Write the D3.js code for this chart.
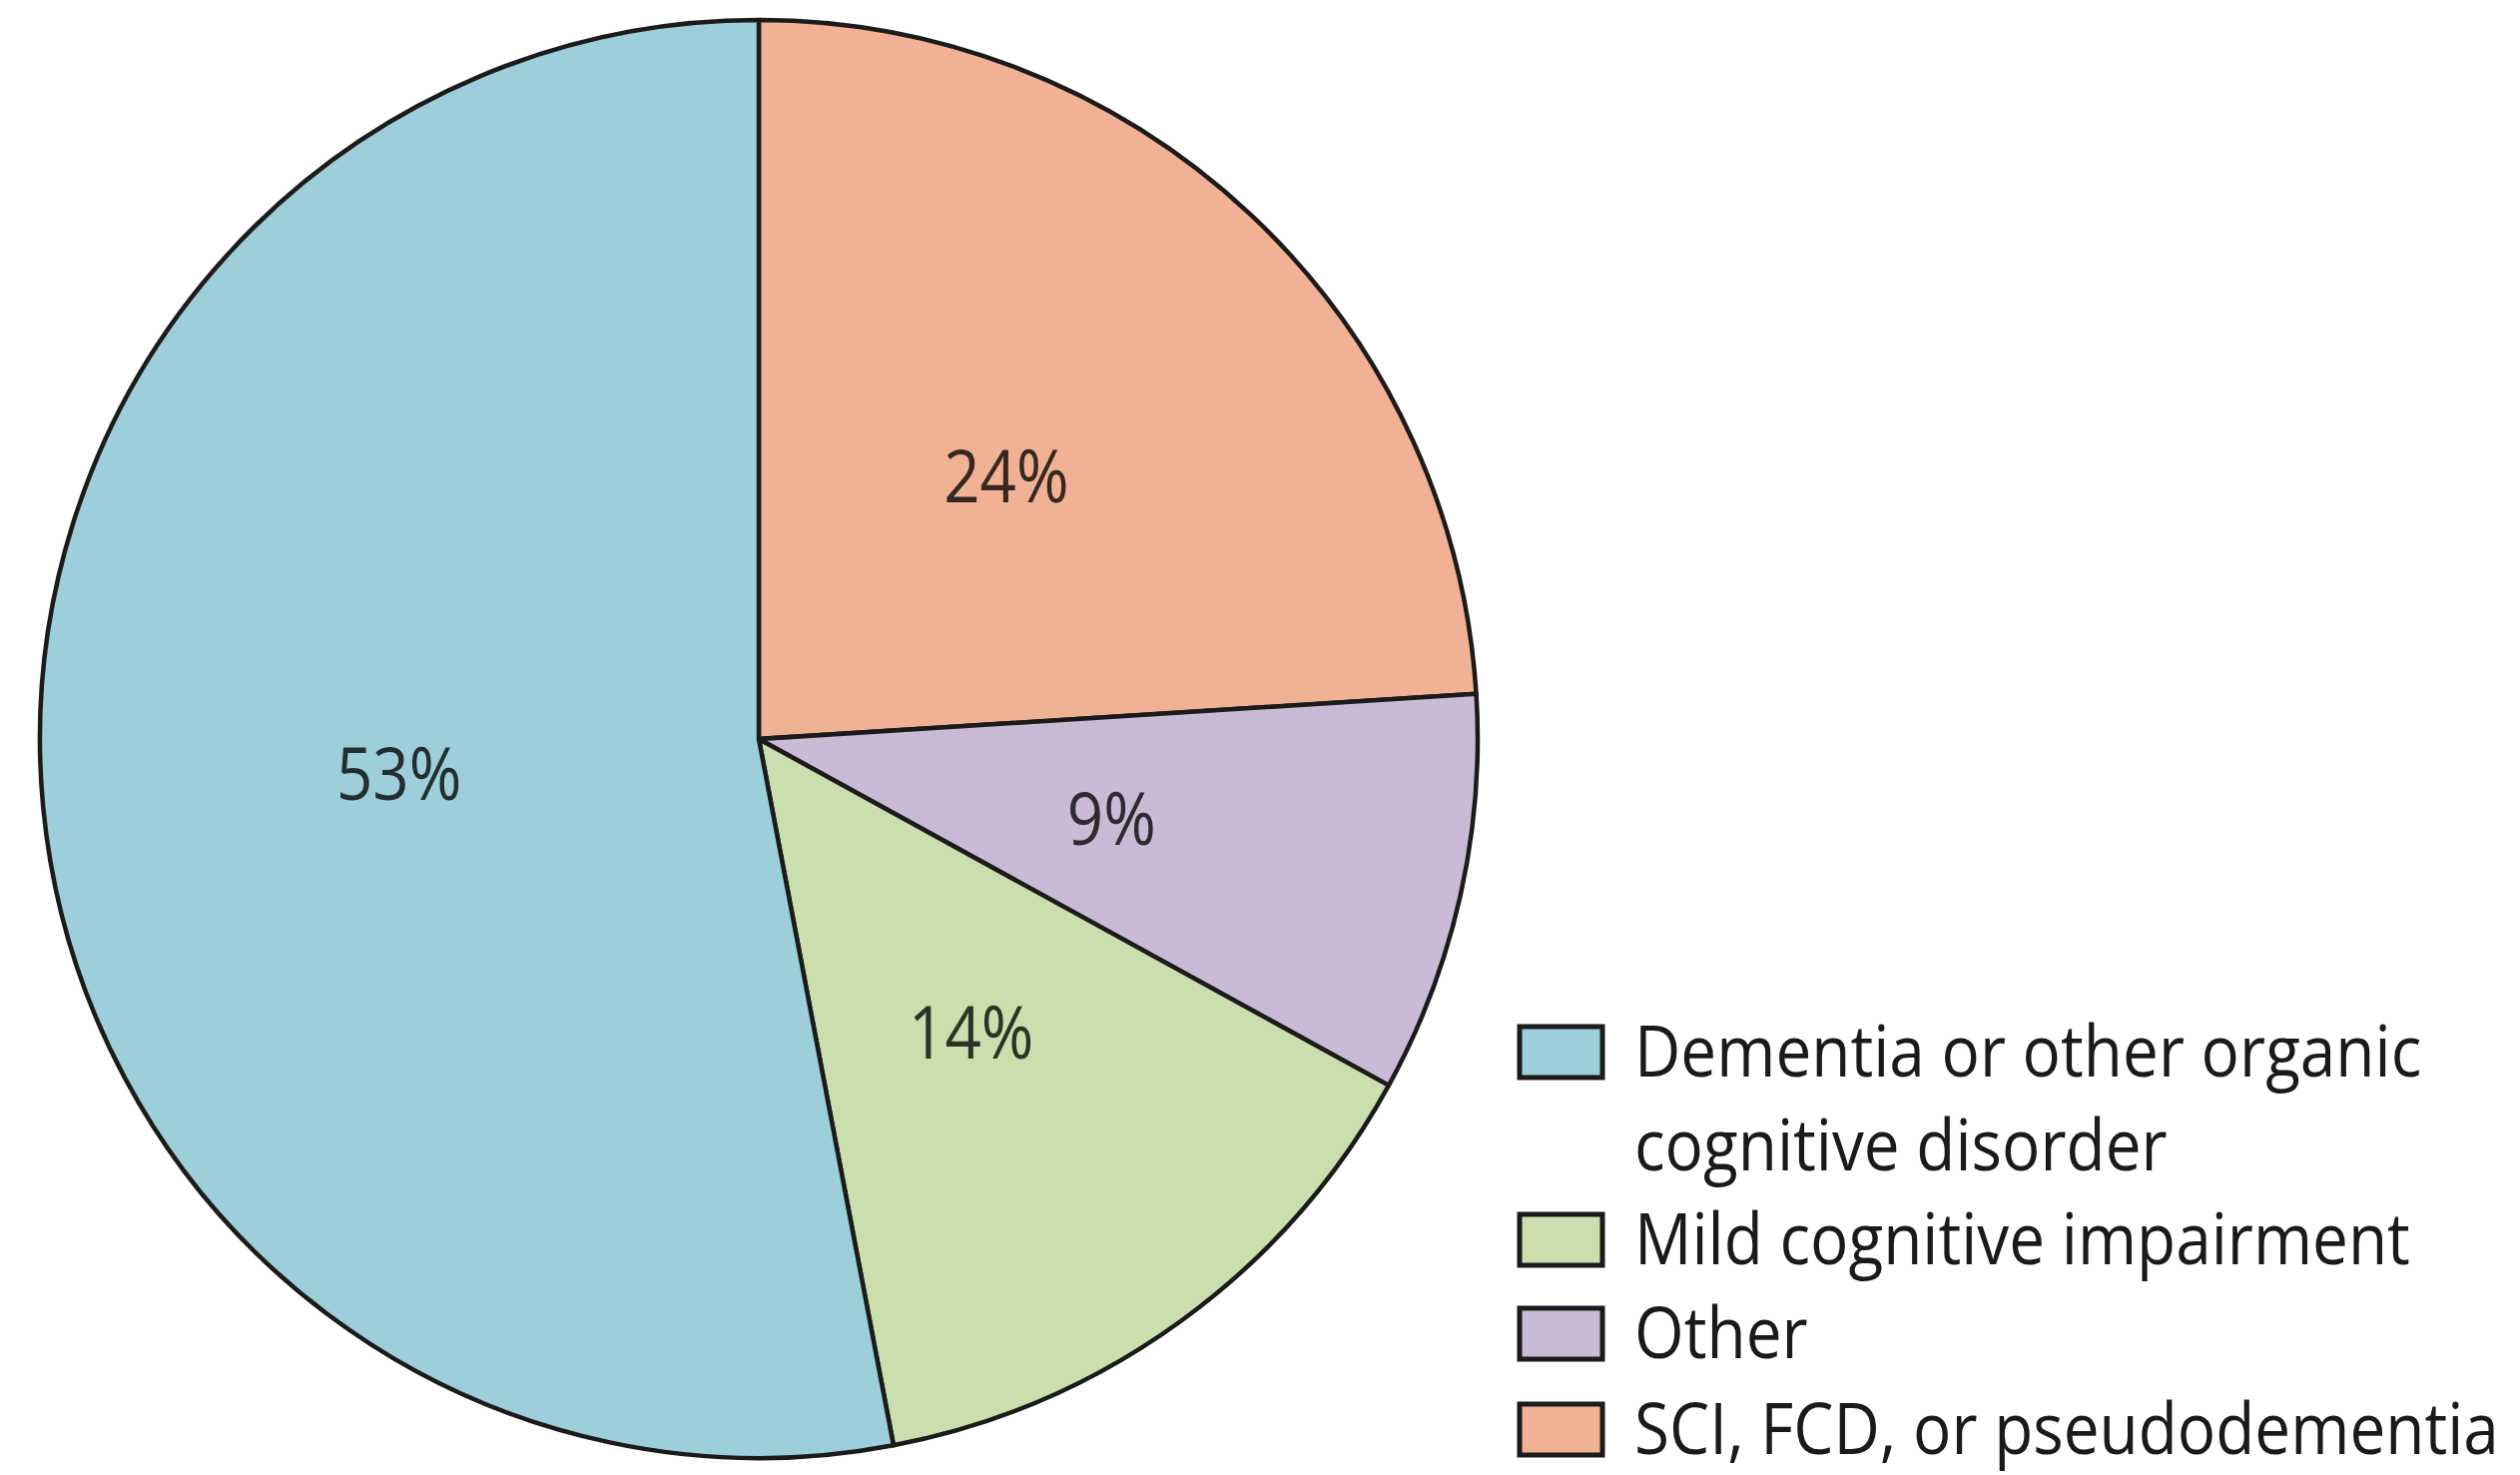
<!DOCTYPE html>
<html>
<head>
<meta charset="utf-8">
<script src="https://cdn.jsdelivr.net/npm/d3@7"></script>
<style>
  html, body { margin: 0; padding: 0; background: #ffffff; }
  svg { display: block; }
  text { font-family: "Open Sans", "Noto Sans", "DejaVu Sans", sans-serif; }
</style>
</head>
<body>
<svg id="chart" width="2524" height="1477"></svg>
<script>
// Diagnoses among referrals, drawn clockwise from 12 o'clock
const sliceNames = ["SCI, FCD, or pseudodementia", "Other", "Mild cognitive impairment", "Dementia or other organic cognitive disorder"];
const sliceValues = [24, 9, 14, 53];
const sliceColors = ["#f1b195", "#c9bbd6", "#cadfad", "#9dcfdb"];

// Legend rows (top to bottom), each split into its printed lines
const legendNames = ["Dementia or other organic cognitive disorder", "Mild cognitive impairment", "Other", "SCI, FCD, or pseudodementia"];
const legendLines = [["Dementia or other organic", "cognitive disorder"], ["Mild cognitive impairment"], ["Other"], ["SCI, FCD, or pseudodementia"]];

const svg = d3.select("#chart");
const cx = 760, cy = 740, radius = 720;

const color = d3.scaleOrdinal().domain(sliceNames).range(sliceColors);

const pie = d3.pie().sort(null).value(d => d.value).startAngle(0).endAngle(2 * Math.PI);
const arcs = pie(sliceNames.map((name, i) => ({ name, value: sliceValues[i] })));

const arc = d3.arc().innerRadius(0).outerRadius(radius);
const labelArc = d3.arc().innerRadius(362).outerRadius(362);

const g = svg.append("g").attr("transform", `translate(${cx},${cy})`);

g.selectAll("path.slice")
  .data(arcs)
  .join("path")
  .attr("class", "slice")
  .attr("d", arc)
  .attr("fill", d => color(d.data.name))
  .attr("stroke", "#1b1b1b")
  .attr("stroke-width", 4.5)
  .attr("stroke-linejoin", "round");

// Percentage labels in a slightly condensed face
const pctLabels = g.selectAll("g.pct")
  .data(arcs)
  .join("g")
  .attr("class", "pct")
  .attr("transform", d => {
    const [x, y] = labelArc.centroid(d);
    return `translate(${x},${y + 27})`;
  });

pctLabels.append("text")
  .attr("text-anchor", "middle")
  .attr("font-size", 74)
  .attr("fill", d => d3.color(color(d.data.name)).darker(4.2))
  .attr("transform", "scale(0.86,1)")
  .text(d => d.data.value + "%");

// Legend
const legend = svg.append("g").attr("transform", "translate(1520,0)");
const rowBaselines = [1078, 1266, 1360, 1456];
const lineGap = 94;
const swatchW = 87, swatchH = 55;

const rows = legend.selectAll("g.row")
  .data(legendNames)
  .join("g")
  .attr("class", "row")
  .attr("transform", (d, i) => `translate(0,${rowBaselines[i]})`);

rows.append("rect")
  .attr("x", 2)
  .attr("y", -50)
  .attr("width", swatchW - 4)
  .attr("height", swatchH - 4)
  .attr("fill", d => color(d))
  .attr("stroke", "#1b1b1b")
  .attr("stroke-width", 5);

const textGroups = rows.append("g")
  .attr("class", "legend-text")
  .attr("transform", "translate(117,0)");

const texts = textGroups.append("text")
  .attr("font-size", 72)
  .attr("fill", "#1a1a1a");

texts.each(function(d, i) {
  d3.select(this).selectAll("tspan")
    .data(legendLines[i])
    .join("tspan")
    .attr("x", 0)
    .attr("y", (t, j) => j * lineGap)
    .text(t => t);
});

// Narrow the legend face so the longest line spans the legend column
let longest = 0;
texts.selectAll("tspan").each(function() {
  longest = Math.max(longest, this.getComputedTextLength());
});
const k = 866 / longest;
texts.attr("transform", `scale(${k},1)`);
</script>
</body>
</html>
